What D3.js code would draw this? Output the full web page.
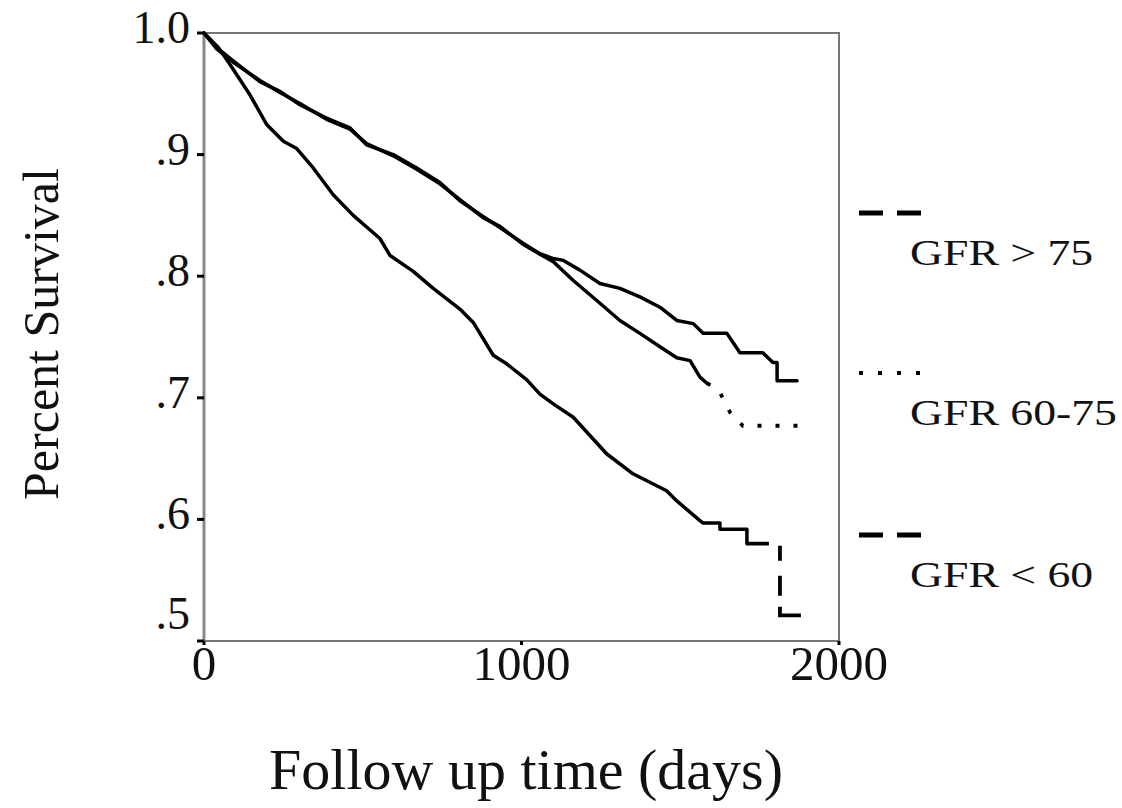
<!DOCTYPE html>
<html>
<head>
<meta charset="utf-8">
<script src="https://cdn.jsdelivr.net/npm/d3@7"></script>
<style>
    html, body { margin: 0; padding: 0; background: #fff; }
    svg { display: block; font-family: "Liberation Serif", "Times New Roman", serif; }
</style>
</head>
<body>
<div class="chart"></div>
<script>
// Kaplan-Meier survival by GFR group, [days, survival]
const gfrOver75 = [
    [0, 1.0], [40, 0.988], [92, 0.977], [176, 0.960], [239, 0.952], [302, 0.941],
    [386, 0.930], [460, 0.922], [512, 0.908], [596, 0.900], [670, 0.889], [743, 0.877],
    [806, 0.862], [880, 0.849], [932, 0.840], [1006, 0.827], [1058, 0.8185], [1100, 0.8145],
    [1132, 0.813], [1184, 0.805], [1247, 0.794], [1310, 0.790], [1373, 0.783], [1436, 0.7745],
    [1489, 0.7636], [1541, 0.761], [1572, 0.753], [1647, 0.753], [1688, 0.737], [1760, 0.737],
    [1792, 0.729], [1805, 0.729], [1805, 0.714], [1868, 0.714]
];

const gfr60to75 = [
    [0, 1.0], [40, 0.987], [92, 0.976], [176, 0.961], [239, 0.951], [302, 0.942],
    [386, 0.929], [460, 0.921], [512, 0.909], [596, 0.899], [670, 0.888], [743, 0.876],
    [806, 0.863], [880, 0.848], [932, 0.841], [1006, 0.826], [1058, 0.818], [1100, 0.812],
    [1163, 0.7965], [1237, 0.780], [1310, 0.7636], [1373, 0.753], [1436, 0.742], [1489, 0.733],
    [1531, 0.7306], [1562, 0.717], [1584, 0.712], [1620, 0.707], [1657, 0.688], [1697, 0.677],
    [1877, 0.677]
];

const gfrUnder60 = [
    [0, 1.0], [45, 0.988], [82, 0.974], [145, 0.949], [198, 0.9245], [250, 0.911],
    [292, 0.905], [344, 0.889], [407, 0.867], [470, 0.850], [554, 0.831], [586, 0.817],
    [659, 0.804], [722, 0.790], [806, 0.773], [848, 0.762], [911, 0.735], [953, 0.728],
    [1016, 0.715], [1058, 0.703], [1100, 0.695], [1163, 0.684], [1268, 0.654], [1351, 0.6375],
    [1457, 0.6236], [1490, 0.615], [1562, 0.599], [1572, 0.597], [1625, 0.597], [1625, 0.592],
    [1710, 0.592], [1710, 0.580], [1814, 0.580], [1814, 0.521], [1880, 0.521]
];

const xTicks = [0, 1000, 2000];
const yTicks = [0.5, 0.6, 0.7, 0.8, 0.9, 1.0];
const yTickLabels = [".5", ".6", ".7", ".8", ".9", "1.0"];
const legendLabels = ["GFR > 75", "GFR 60-75", "GFR < 60"];

// line styles: the tail of each curve (from index tailFrom) gets the dash pattern
const seriesStyles = [
    {data: gfrOver75, tailFrom: null, dash: null},
    {data: gfr60to75, tailFrom: 26, dash: "4,14"},
    {data: gfrUnder60, tailFrom: 31, dash: "22,13,15,15,20,11,40"}
];

const width = 1122;
const height = 808;

const svg = d3.select(".chart").append("svg")
    .attr("width", width)
    .attr("height", height);

const x = d3.scaleLinear()
    .domain([0, 2000])
    .range([204, 839]);

const y = d3.scaleLinear()
    .domain([0.5, 1.0])
    .range([641, 33]);

// frame
svg.append("rect")
    .attr("x", x(0))
    .attr("y", y(1))
    .attr("width", x(2000) - x(0))
    .attr("height", y(0.5) - y(1))
    .attr("fill", "none")
    .attr("stroke", "#777")
    .attr("stroke-width", 2);

svg.append("line")
    .attr("x1", x(0)).attr("x2", x(0))
    .attr("y1", y(1)).attr("y2", y(0.5))
    .attr("stroke", "#888")
    .attr("stroke-width", 3);

// y axis: short outward ticks, labels sit a bit low (bottom one raised)
const yAxis = svg.append("g").attr("class", "y axis");

yAxis.selectAll("line")
    .data(yTicks)
    .enter().append("line")
    .attr("x1", x(0) - 7)
    .attr("x2", x(0))
    .attr("y1", d => y(d))
    .attr("y2", d => y(d))
    .attr("stroke", "#000")
    .attr("stroke-width", 3);

yAxis.selectAll("text")
    .data(yTicks)
    .enter().append("text")
    .attr("x", 190)
    .attr("y", d => Math.min(y(d) + 10, y(0.5) - 12))
    .attr("text-anchor", "end")
    .attr("font-size", 46)
    .attr("fill", "#111")
    .text((d, i) => yTickLabels[i]);

// x axis
const xAxis = svg.append("g").attr("class", "x axis");

xAxis.selectAll("rect")
    .data(xTicks)
    .enter().append("rect")
    .attr("x", d => x(d) - 1.5)
    .attr("y", y(0.5))
    .attr("width", 3)
    .attr("height", 4)
    .attr("fill", "#000");

xAxis.selectAll("text")
    .data(xTicks)
    .enter().append("text")
    .attr("x", d => x(d))
    .attr("y", 680)
    .attr("text-anchor", "middle")
    .attr("font-size", 49)
    .attr("fill", "#111")
    .text(d => d);

// axis titles
svg.append("text")
    .attr("x", 526)
    .attr("y", 789)
    .attr("text-anchor", "middle")
    .attr("font-size", 58)
    .attr("fill", "#111")
    .text("Follow up time (days)");

svg.append("text")
    .attr("transform", "translate(58," + 334 + ") rotate(-90)")
    .attr("text-anchor", "middle")
    .attr("font-size", 50)
    .attr("fill", "#111")
    .text("Percent Survival");

// survival curves
const line = d3.line()
    .curve(d3.curveLinear)
    .x(d => x(d[0]))
    .y(d => y(d[1]));

const curves = svg.append("g").attr("class", "curves");

seriesStyles.forEach(s => {
    const body = s.tailFrom === null ? s.data : s.data.slice(0, s.tailFrom + 1);

    curves.append("path")
        .datum(body)
        .attr("d", line)
        .attr("fill", "none")
        .attr("stroke", "#000")
        .attr("stroke-width", 3.5)
        .attr("stroke-linejoin", "round")
        .attr("stroke-linecap", "round");

    if (s.tailFrom !== null) {
        curves.append("path")
            .datum(s.data.slice(s.tailFrom))
            .attr("d", line)
            .attr("fill", "none")
            .attr("stroke", "#000")
            .attr("stroke-width", 3.8)
            .attr("stroke-dasharray", s.dash);
    }
});

// legend, outside the plot on the right
const legendY = [213, 373, 535];
const legendDash = ["24,14", "4,15", "24,14"];

const legend = svg.append("g").attr("class", "legend");

legend.selectAll("line")
    .data(legendLabels)
    .enter().append("line")
    .attr("x1", 859)
    .attr("x2", 921)
    .attr("y1", (d, i) => legendY[i])
    .attr("y2", (d, i) => legendY[i])
    .attr("stroke", "#000")
    .attr("stroke-width", (d, i) => i === 1 ? 4 : 5)
    .attr("stroke-dasharray", (d, i) => legendDash[i]);

legend.selectAll("text")
    .data(legendLabels)
    .enter().append("text")
    .attr("transform", (d, i) => "translate(910," + (legendY[i] + 52) + ") scale(1.27,1)")
    .attr("font-size", 36)
    .attr("fill", "#111")
    .text(d => d);
</script>
</body>
</html>
